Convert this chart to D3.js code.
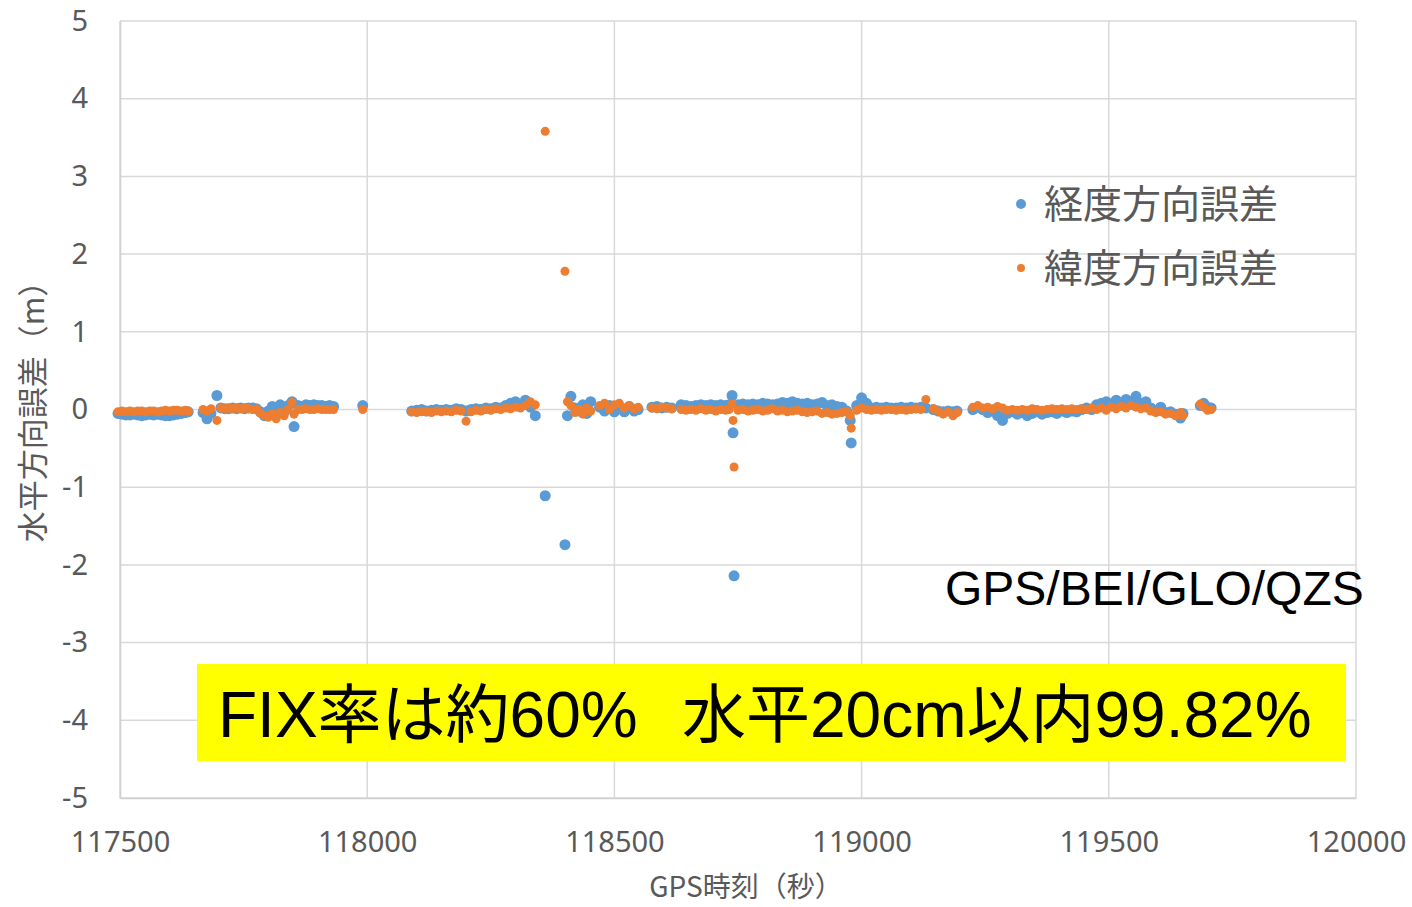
<!DOCTYPE html>
<html><head><meta charset="utf-8">
<script src="https://cdn.jsdelivr.net/npm/d3@7"></script>
<style>
html,body{margin:0;padding:0;background:#fff;}
svg{display:block;}
</style></head>
<body>
<svg id="chart" width="1412" height="907"></svg>
<script>
// GPS time (s)
const times = [
  117496,117504,117512,117520,117528,117536,117544,117552,117560,117568,117576,117584,117592,117600,117608,117616,117624,117632,117638,
  117668,117676,117684,117696,117704,117712,117720,117728,117736,117744,117752,117760,117768,117776,117784,117792,117800,117808,117816,117824,117832,117840,117848,117852,117860,117868,117876,117884,117892,117900,117908,117916,117924,117932,
  117991,
  118090,118100,118110,118120,118130,118140,118150,118160,118170,118180,118190,118200,118210,118220,118230,118240,118250,118260,118270,118280,118290,118300,118310,118320,118330,118340,
  118360,118400,
  118405,118412,118420,118428,118436,118444,118452,118470,118480,118490,118500,118510,118520,118530,118540,118548,
  118576,118586,118596,118606,118616,
  118635,118645,118655,118665,118675,118685,118695,118705,118715,118725,118732,118738,118740,118742,
  118750,118760,118770,118780,118790,118800,118810,118820,118830,118840,118850,118860,118870,118880,118890,118900,118910,118920,118930,118940,118950,118960,118970,118977,
  118979,
  118990,119000,119010,119020,119030,119040,119050,119060,119070,119080,119090,119100,119110,119120,119130,
  119145,119155,119165,119175,119185,119193,
  119225,119235,119245,119255,119265,119275,119285,119295,119305,119315,119325,119335,119345,119355,119365,119375,119385,119395,119405,119415,119425,119435,119445,119455,119465,119475,119485,119495,119505,119515,119525,119535,119545,119555,119565,119575,119585,119595,119605,119615,119625,119635,119645,119650,
  119685,119692,119700,119707
];
// 経度方向誤差 (m)
const lonErr = [
  -0.05,-0.06,-0.07,-0.07,-0.06,-0.07,-0.08,-0.07,-0.06,-0.07,-0.06,-0.07,-0.08,-0.08,-0.07,-0.06,-0.05,-0.04,-0.03,
  -0.04,-0.12,-0.05,0.18,0.02,0.01,0.01,0.02,0.01,0.02,0.01,0.02,0.02,0.01,-0.03,-0.08,-0.02,0.04,-0.06,0.06,-0.03,0.05,0.10,-0.22,0.05,0.04,0.06,0.05,0.06,0.05,0.05,0.04,0.05,0.04,
  0.05,
  -0.02,-0.01,0.00,-0.02,-0.01,0.00,-0.01,0.00,-0.01,0.01,0.00,-0.02,0.00,0.01,0.00,0.02,0.01,0.03,0.02,0.05,0.08,0.10,0.05,0.12,0.03,-0.08,
  -1.11,-1.74,
  -0.08,0.17,0.02,-0.02,0.06,-0.05,0.10,0.03,-0.02,0.05,-0.03,0.02,-0.03,0.04,-0.02,0.00,
  0.03,0.04,0.02,0.03,0.02,
  0.06,0.05,0.04,0.05,0.06,0.05,0.06,0.05,0.06,0.05,0.06,0.18,-0.30,-2.14,
  0.06,0.07,0.06,0.07,0.06,0.08,0.07,0.06,0.07,0.09,0.08,0.10,0.08,0.07,0.08,0.06,0.07,0.09,0.05,0.06,0.04,0.03,-0.02,-0.14,
  -0.43,
  0.05,0.15,0.08,0.02,0.03,0.02,0.03,0.02,0.02,0.03,0.02,0.03,0.02,0.03,0.02,
  0.00,-0.02,-0.03,-0.02,-0.03,-0.02,
  0.00,0.03,0.00,-0.04,-0.02,-0.08,-0.14,-0.05,-0.03,-0.06,-0.04,-0.08,-0.05,-0.03,-0.06,-0.04,-0.03,-0.05,-0.02,-0.04,-0.02,-0.03,0.00,0.02,0.00,0.06,0.08,0.10,0.05,0.12,0.08,0.13,0.10,0.17,0.08,0.10,0.02,-0.02,0.03,-0.04,-0.03,-0.06,-0.11,-0.05,
  0.05,0.08,0.03,0.02
];
// 緯度方向誤差 (m)
const latErr = [
  -0.03,-0.02,-0.03,-0.02,-0.03,-0.02,-0.02,-0.03,-0.02,-0.02,-0.03,-0.02,-0.01,-0.02,-0.01,-0.01,-0.02,-0.01,-0.02,
  0.00,-0.02,0.01,-0.14,0.02,0.01,0.02,0.01,0.02,0.01,0.02,0.01,0.00,0.01,-0.05,-0.08,-0.10,-0.05,-0.12,-0.04,-0.08,0.00,0.09,-0.06,0.00,0.00,0.01,0.00,0.00,0.01,0.00,0.00,0.00,0.00,
  0.00,
  -0.03,-0.04,-0.03,-0.03,-0.04,-0.02,-0.03,-0.02,-0.03,-0.01,-0.02,-0.15,-0.03,-0.01,-0.02,0.00,-0.01,0.01,0.00,0.02,0.01,0.03,0.02,0.05,0.10,0.06,
  3.58,1.78,
  0.10,0.05,-0.04,0.00,-0.06,0.02,-0.02,0.05,0.08,0.00,0.06,0.08,0.02,0.05,0.01,0.03,
  0.02,0.01,0.03,0.02,0.01,
  0.00,-0.01,0.00,-0.01,0.01,-0.01,0.00,-0.02,0.00,-0.01,0.00,0.07,-0.14,-0.74,
  -0.01,0.00,-0.02,-0.01,0.00,-0.02,-0.01,0.01,-0.02,-0.01,-0.03,-0.02,-0.01,-0.03,-0.04,-0.03,-0.02,-0.05,-0.04,-0.06,-0.05,-0.04,-0.03,-0.08,
  -0.24,
  -0.01,0.02,0.00,-0.01,0.00,-0.01,0.00,0.00,-0.01,0.00,-0.01,0.00,0.01,0.00,0.13,
  0.01,-0.02,-0.06,-0.03,-0.08,-0.04,
  0.03,0.05,0.02,0.03,0.01,0.04,0.02,-0.01,0.00,-0.01,0.00,-0.01,0.01,0.00,-0.01,0.00,0.01,0.00,0.01,0.00,0.01,0.00,0.01,0.00,0.02,0.00,0.02,-0.01,0.03,0.01,0.04,0.02,0.05,0.03,0.01,0.02,-0.02,-0.04,-0.03,-0.06,-0.05,-0.08,-0.04,-0.08,
  0.07,0.03,-0.01,0.00
];
const seriesNames = ["経度方向誤差", "緯度方向誤差"];
const xTicks = [117500, 118000, 118500, 119000, 119500, 120000];
const yTicks = [-5, -4, -3, -2, -1, 0, 1, 2, 3, 4, 5];
const xTitle = "GPS時刻（秒）";
const yTitle = "水平方向誤差（m）";
const noteText = "GPS/BEI/GLO/QZS";
const bannerParts = ["FIX率は約60%", "水平20cm以内99.82%"];

const colors = ["#5b9bd5", "#ed7d31"];
const radii = [5.5, 4.5];

const svg = d3.select("#chart");
const M = {left: 120, top: 21, right: 1356, bottom: 798};
const x = d3.scaleLinear().domain([117500, 120000]).range([M.left, M.right]);
const y = d3.scaleLinear().domain([-5, 5]).range([M.bottom, M.top]);
const tickFont = "'Noto Sans', 'DejaVu Sans', sans-serif";
const gray = "#595959";

// gridlines
svg.append("g").selectAll("line.h").data(yTicks).join("line")
  .attr("x1", M.left).attr("x2", M.right)
  .attr("y1", d => y(d)).attr("y2", d => y(d))
  .attr("stroke", "#d9d9d9").attr("stroke-width", 1.5);
svg.append("g").selectAll("line.v").data(xTicks).join("line")
  .attr("x1", d => x(d)).attr("x2", d => x(d))
  .attr("y1", M.top).attr("y2", M.bottom)
  .attr("stroke", "#d9d9d9").attr("stroke-width", 1.5);

// axes
const yAxis = d3.axisLeft(y).tickValues(yTicks).tickSize(0).tickPadding(32).tickFormat(d => String(d));
const gy = svg.append("g").attr("transform", `translate(${M.left},0)`).call(yAxis);
gy.select(".domain").attr("stroke", "#d0d0d0").attr("stroke-width", 1.5);
gy.selectAll("text").attr("font-family", tickFont).attr("font-size", 29).attr("fill", gray);

const xAxis = d3.axisBottom(x).tickValues(xTicks).tickSize(0).tickPadding(33).tickFormat(d => String(d));
const gx = svg.append("g").attr("transform", `translate(0,${M.bottom})`).call(xAxis);
gx.select(".domain").attr("stroke", "#d0d0d0").attr("stroke-width", 1.5);
gx.selectAll("text").attr("font-family", tickFont).attr("font-size", 29).attr("fill", gray);

// series
const data = times.map((t, i) => ({t, v: [lonErr[i], latErr[i]]}));
[0, 1].forEach(s => {
  svg.append("g").selectAll("circle").data(data).join("circle")
    .attr("cx", d => x(d.t)).attr("cy", d => y(d.v[s]))
    .attr("r", radii[s]).attr("fill", colors[s]);
});

// legend
const lg = svg.append("g");
const legR = [5, 4];
seriesNames.forEach((name, i) => {
  const ly = 204 + i * 64;
  lg.append("circle").attr("cx", 1021).attr("cy", ly).attr("r", legR[i]).attr("fill", colors[i]);
  lg.append("text").attr("x", 1044).attr("y", ly).attr("dy", "0.36em")
    .attr("font-family", "'Noto Sans CJK JP', sans-serif").attr("font-size", 39)
    .attr("fill", gray).text(name);
});

// note
svg.append("text").attr("x", 945).attr("y", 605)
  .attr("font-family", "'Liberation Sans', Arial, sans-serif").attr("font-size", 48)
  .attr("fill", "#000").text(noteText);

// banner
svg.append("rect").attr("x", 197).attr("y", 664).attr("width", 1149).attr("height", 97).attr("fill", "#ffff00");
const bt = svg.append("text").attr("y", 737)
  .attr("font-family", "'Liberation Sans', 'Noto Sans CJK JP', sans-serif").attr("font-size", 64)
  .attr("fill", "#000");
bt.append("tspan").attr("x", 218).text(bannerParts[0]);
bt.append("tspan").attr("x", 682).text(bannerParts[1]);

// axis titles
svg.append("text").attr("x", 746).attr("y", 887).attr("text-anchor", "middle")
  .attr("dy", "0.35em")
  .attr("font-family", "'Noto Sans CJK JP', sans-serif").attr("font-size", 28).attr("fill", gray).text(xTitle);
svg.append("text").attr("transform", `translate(33,404) rotate(-90)`)
  .attr("text-anchor", "middle").attr("dy", "0.35em")
  .attr("font-family", "'Noto Sans CJK JP', sans-serif").attr("font-size", 31).attr("fill", gray).text(yTitle);
</script>
</body></html>
